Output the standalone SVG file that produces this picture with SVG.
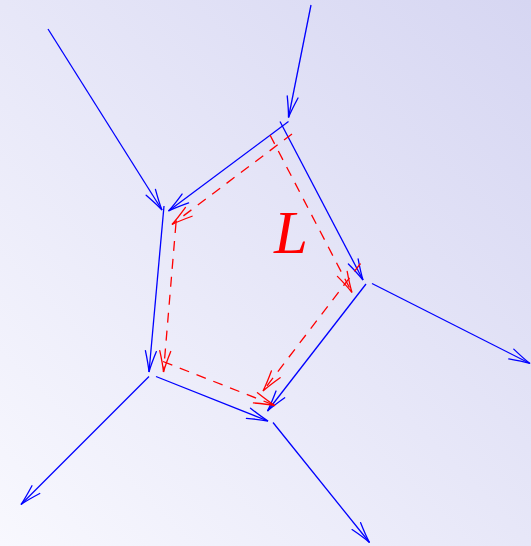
<svg xmlns="http://www.w3.org/2000/svg" width="531" height="546" viewBox="0 0 531 546">
  <defs>
    <linearGradient id="bg" x1="0" y1="1" x2="1" y2="0">
      <stop offset="0" stop-color="#f8f8fe"/>
      <stop offset="1" stop-color="#d6d6f2"/>
    </linearGradient>
    <marker id="ab" markerUnits="userSpaceOnUse" viewBox="-23 -8 25 16" markerWidth="25" markerHeight="16" refX="0" refY="0" orient="auto">
      <path d="M-21,-5.5 Q-8,-1.5 0,0 Q-8,1.5 -21,5.5" fill="none" stroke="#0000ff" stroke-width="1.3" stroke-linecap="round"/>
    </marker>
    <marker id="ar" markerUnits="userSpaceOnUse" viewBox="-23 -8 25 16" markerWidth="25" markerHeight="16" refX="0" refY="0" orient="auto">
      <path d="M-21,-5.5 Q-8,-1.5 0,0 Q-8,1.5 -21,5.5" fill="none" stroke="#ff0000" stroke-width="1.3" stroke-linecap="round"/>
    </marker>
  </defs>
  <style>
    .b { fill: none; stroke: #0000ff; stroke-width: 1.3; marker-end: url(#ab); }
    .r { fill: none; stroke: #ff0000; stroke-width: 1.3; stroke-dasharray: 10 8; marker-end: url(#ar); }
    .lbl { font-family: "Liberation Serif", "Times New Roman", serif; font-style: italic; font-size: 61px; fill: #ff0000; }
  </style>
  <rect x="0" y="0" width="531" height="546" fill="url(#bg)"/>
  <g id="connectors">
    <g id="blue-edges">
      <line class="b" x1="48" y1="29" x2="162" y2="210"/>
      <line class="b" x1="311" y1="5" x2="288.5" y2="117.5"/>
      <line class="b" x1="288.5" y1="121.5" x2="168.5" y2="211"/>
      <line class="b" x1="280" y1="121.5" x2="363" y2="280"/>
      <line class="b" x1="164" y1="206" x2="149" y2="372"/>
      <line class="b" x1="366" y1="284" x2="267.5" y2="411"/>
      <line class="b" x1="156" y1="376.5" x2="268" y2="421"/>
      <line class="b" x1="372" y1="283.5" x2="530" y2="363.5"/>
      <line class="b" x1="149" y1="376.5" x2="21" y2="504.5"/>
      <line class="b" x1="273" y1="422.5" x2="369.5" y2="542.5"/>
    </g>
    <g id="red-loop">
      <line class="r" x1="292" y1="134" x2="172" y2="224.5"/>
      <line class="r" x1="270" y1="135" x2="352" y2="292.5"/>
      <line class="r" x1="176" y1="223" x2="163.5" y2="372"/>
      <line class="r" x1="360.5" y1="263.5" x2="263" y2="391"/>
      <line class="r" x1="163" y1="361.5" x2="275" y2="405.5"/>
    </g>
  </g>
  <g id="label-L">
    <text class="lbl" x="274" y="253">L</text>
  </g>
</svg>
